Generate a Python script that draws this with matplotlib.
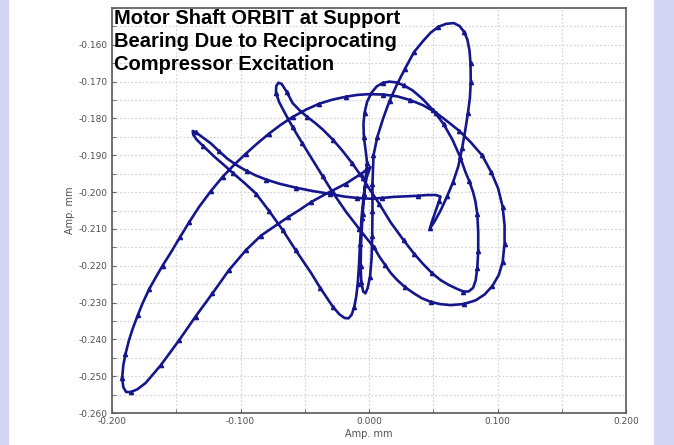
import matplotlib
matplotlib.use("Agg")
import matplotlib.pyplot as plt
from matplotlib.ticker import MultipleLocator, FormatStrFormatter
from matplotlib.patches import Rectangle

title_text = "Motor Shaft ORBIT at Support\nBearing Due to Reciprocating\nCompressor Excitation"
x_label = "Amp. mm"
y_label = "Amp. mm"
x_ticks = [-0.2, -0.1, 0.0, 0.1, 0.2]
y_ticks = [-0.26, -0.25, -0.24, -0.23, -0.22, -0.21, -0.20, -0.19, -0.18, -0.17, -0.16]

# orbit points, in drawing order (closed path)
orbit_pts = [
    # bottom-left loop, upper branch, big arc and outer ring
    (-0.1921, -0.2505), (-0.1912, -0.2470), (-0.1895, -0.2440), (-0.1870, -0.2405), (-0.1840, -0.2372),
    (-0.1800, -0.2335), (-0.1762, -0.2302), (-0.1710, -0.2263), (-0.1660, -0.2232), (-0.1607, -0.2200),
    (-0.1540, -0.2163), (-0.1470, -0.2122), (-0.1400, -0.2082), (-0.1322, -0.2040), (-0.1230, -0.1997),
    (-0.1140, -0.1959), (-0.1050, -0.1926), (-0.0959, -0.1896), (-0.0870, -0.1868), (-0.0777, -0.1841),
    (-0.0690, -0.1818), (-0.0595, -0.1796), (-0.0490, -0.1776), (-0.0388, -0.1760), (-0.0285, -0.1749),
    (-0.0180, -0.1741), (-0.0090, -0.1736), (0.0000, -0.1734), (0.0110, -0.1735), (0.0220, -0.1740),
    (0.0320, -0.1750), (0.0420, -0.1764), (0.0520, -0.1784), (0.0610, -0.1808), (0.0700, -0.1833),
    (0.0790, -0.1864), (0.0880, -0.1900), (0.0950, -0.1945), (0.1005, -0.1990), (0.1040, -0.2040),
    (0.1055, -0.2090), (0.1055, -0.2140), (0.1040, -0.2190), (0.1010, -0.2225), (0.0960, -0.2255),
    (0.0900, -0.2278), (0.0830, -0.2294), (0.0738, -0.2304), (0.0634, -0.2307), (0.0550, -0.2304),
    (0.0479, -0.2298), (0.0410, -0.2288), (0.0349, -0.2275), (0.0280, -0.2258), (0.0220, -0.2239),
    (0.0170, -0.2220), (0.0128, -0.2199), (0.0080, -0.2175), (0.0037, -0.2149), (-0.0020, -0.2125),
    (-0.0076, -0.2100), (-0.0180, -0.2053), (-0.0284, -0.2000), (-0.0360, -0.1957), (-0.0440, -0.1912),
    (-0.0520, -0.1867), (-0.0595, -0.1823), (-0.0655, -0.1785), (-0.0700, -0.1755), (-0.0724, -0.1730),
    # narrow loop tip and its right branch down to the inner loop
    (-0.0722, -0.1712), (-0.0705, -0.1703), (-0.0680, -0.1706), (-0.0640, -0.1728), (-0.0595, -0.1758),
    (-0.0540, -0.1778), (-0.0480, -0.1796), (-0.0420, -0.1812), (-0.0360, -0.1830), (-0.0280, -0.1858),
    (-0.0206, -0.1888), (-0.0130, -0.1922), (-0.0050, -0.1962), (0.0010, -0.1995), (0.0080, -0.2032),
    (0.0170, -0.2083), (0.0270, -0.2131), (0.0350, -0.2167), (0.0420, -0.2195), (0.0490, -0.2220),
    (0.0557, -0.2239), (0.0620, -0.2252), (0.0686, -0.2263), (0.0735, -0.2270), (0.0775, -0.2270),
    (0.0810, -0.2260), (0.0830, -0.2240), (0.0843, -0.2205), (0.0850, -0.2160), (0.0850, -0.2110),
    (0.0843, -0.2060), (0.0828, -0.2025), (0.0810, -0.2000), (0.0780, -0.1970), (0.0750, -0.1945),
    # small arch over the centre
    (0.0710, -0.1905), (0.0650, -0.1858), (0.0580, -0.1815), (0.0500, -0.1778), (0.0420, -0.1748),
    (0.0340, -0.1724), (0.0270, -0.1710), (0.0210, -0.1702), (0.0160, -0.1700), (0.0110, -0.1703),
    (0.0060, -0.1713), (0.0020, -0.1730), (-0.0015, -0.1755), (-0.0035, -0.1785), (-0.0043, -0.1815),
    (-0.0040, -0.1850), (-0.0025, -0.1890), (-0.0015, -0.1920), (-0.0030, -0.1980), (-0.0050, -0.2060),
    # narrow U near x = 0
    (-0.0062, -0.2140), (-0.0065, -0.2200), (-0.0060, -0.2245), (-0.0045, -0.2270), (-0.0028, -0.2275),
    (-0.0010, -0.2260), (0.0008, -0.2230), (0.0020, -0.2180), (0.0025, -0.2120), (0.0027, -0.2050),
    (0.0027, -0.1977), (0.0035, -0.1900),
    # tall ellipse at the top right, then the hook
    (0.0065, -0.1850), (0.0110, -0.1800), (0.0160, -0.1752), (0.0220, -0.1706), (0.0280, -0.1665),
    (0.0350, -0.1620), (0.0420, -0.1590), (0.0480, -0.1567), (0.0540, -0.1551), (0.0600, -0.1543),
    (0.0660, -0.1541), (0.0705, -0.1549), (0.0740, -0.1565), (0.0765, -0.1585), (0.0782, -0.1615),
    (0.0790, -0.1650), (0.0792, -0.1700), (0.0785, -0.1745), (0.0770, -0.1785), (0.0750, -0.1830),
    (0.0725, -0.1880), (0.0695, -0.1930), (0.0655, -0.1972), (0.0610, -0.2010), (0.0560, -0.2048),
    (0.0510, -0.2080), (0.0475, -0.2098), (0.0490, -0.2080), (0.0520, -0.2050), (0.0545, -0.2025),
    (0.0556, -0.2012),
    # nearly horizontal curve to the upper-left tip
    (0.0520, -0.2008), (0.0453, -0.2008), (0.0380, -0.2010), (0.0320, -0.2011), (0.0250, -0.2012),
    (0.0193, -0.2013), (0.0100, -0.2016), (0.0012, -0.2018), (-0.0090, -0.2016), (-0.0196, -0.2012),
    (-0.0300, -0.2005), (-0.0370, -0.2001), (-0.0440, -0.1997), (-0.0570, -0.1988), (-0.0700, -0.1977),
    (-0.0800, -0.1966), (-0.0880, -0.1955), (-0.0950, -0.1943), (-0.1020, -0.1929), (-0.1100, -0.1910),
    (-0.1170, -0.1888), (-0.1230, -0.1868), (-0.1300, -0.1850), (-0.1350, -0.1837), (-0.1372, -0.1834),
    # straight stroke down to the V
    (-0.1368, -0.1844), (-0.1340, -0.1858), (-0.1290, -0.1875), (-0.1200, -0.1905), (-0.1130, -0.1926),
    (-0.1060, -0.1948), (-0.0970, -0.1975), (-0.0880, -0.2004), (-0.0780, -0.2050), (-0.0670, -0.2104),
    (-0.0570, -0.2158), (-0.0450, -0.2220), (-0.0380, -0.2260), (-0.0336, -0.2283), (-0.0280, -0.2312),
    (-0.0230, -0.2332), (-0.0190, -0.2342), (-0.0160, -0.2343), (-0.0135, -0.2333), (-0.0115, -0.2312),
    (-0.0100, -0.2285), (-0.0088, -0.2250), (-0.0078, -0.2200), (-0.0070, -0.2140), (-0.0058, -0.2070),
    (-0.0040, -0.2005), (-0.0018, -0.1960), (0.0010, -0.1932),
    # lower branch back to the bottom-left tip
    (-0.0060, -0.1950), (-0.0180, -0.1977), (-0.0336, -0.2005), (-0.0450, -0.2027), (-0.0543, -0.2049),
    (-0.0630, -0.2068), (-0.0710, -0.2087), (-0.0840, -0.2118), (-0.0959, -0.2158), (-0.1090, -0.2212),
    (-0.1218, -0.2275), (-0.1350, -0.2338), (-0.1477, -0.2402), (-0.1620, -0.2470), (-0.1737, -0.2518),
    (-0.1800, -0.2535), (-0.1850, -0.2543), (-0.1890, -0.2543), (-0.1912, -0.2530), (-0.1921, -0.2505),
]
orbit_x = [p[0] for p in orbit_pts]
orbit_y = [p[1] for p in orbit_pts]

W, H = 674, 445
fig = plt.figure(figsize=(W / 100, H / 100), dpi=100)
fig.patch.set_facecolor("white")
frame_color = "#d4d4f4"
fig.patches.append(Rectangle((0, 0), 8 / W, 1, transform=fig.transFigure, color=frame_color, zorder=0))
fig.patches.append(Rectangle((654 / W, 0), 20 / W, 1, transform=fig.transFigure, color=frame_color, zorder=0))

ax = fig.add_axes([112 / W, 1 - 413 / H, (626 - 112) / W, (413 - 8) / H])
ax.plot(orbit_x, orbit_y, color="#16168c", lw=1.9, marker="^", ms=3.0,
        markevery=0.045, solid_joinstyle="round", zorder=3)

ax.set_xlim(-0.2, 0.2)
ax.set_ylim(-0.26, -0.15)
ax.set_xticks(x_ticks)
ax.set_yticks(y_ticks)
ax.xaxis.set_minor_locator(MultipleLocator(0.05))
ax.yaxis.set_minor_locator(MultipleLocator(0.005))
ax.xaxis.set_major_formatter(FormatStrFormatter("%.3f"))
ax.yaxis.set_major_formatter(FormatStrFormatter("%.3f"))
ax.grid(which="both", color="#d6d6d6", ls=(0, (1.5, 1.5)), lw=0.9, zorder=0)
ax.tick_params(which="both", direction="in", length=3, color="#666666",
               labelsize=6.5, labelcolor="#505050", pad=3)
for s in ax.spines.values():
    s.set_color("#5a5a5a")
    s.set_linewidth(1.2)

ax.set_xlabel(x_label, fontsize=7, color="#505050", labelpad=2)
ax.set_ylabel(y_label, fontsize=7, color="#505050", labelpad=3)

ax.text(0.003, 0.998, title_text, transform=ax.transAxes, ha="left", va="top",
        fontsize=14.5, fontweight="bold", family="Liberation Sans", color="black",
        linespacing=1.28, zorder=5)

fig.savefig("out.png", dpi=100)
